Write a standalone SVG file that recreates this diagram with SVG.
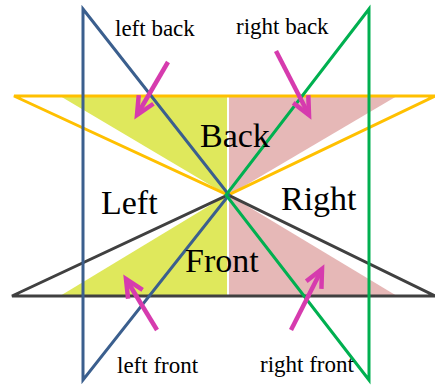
<svg xmlns="http://www.w3.org/2000/svg" width="435" height="385" viewBox="0 0 435 385">
<style>
.fy{fill:#dfe85c}
.fp{fill:#e6b8b7}
.ln{fill:none;stroke-width:3;stroke-linejoin:miter}
.ar{fill:none;stroke:#d63bae;stroke-width:4.5}
.sm{font-family:"Liberation Serif","Times New Roman",serif;font-size:23px;fill:#000}
.bg{font-family:"Liberation Serif","Times New Roman",serif;font-size:34px;fill:#000}
</style>
<defs>
<marker id="chev" markerUnits="userSpaceOnUse" viewBox="-22 -12 26 24" refX="0" refY="0" markerWidth="26" markerHeight="24" orient="auto" overflow="visible">
<path d="M-18,-8.5 L0,0 L-18,8.5" fill="none" stroke="#d63bae" stroke-width="4.5" stroke-linejoin="miter"/>
</marker>
</defs>
<rect width="435" height="385" fill="#fff"/>
<g id="fills">
<polygon class="fy" points="60,96 227,96 227,195"/>
<polygon class="fp" points="229,96 397,96 229,195"/>
<polygon class="fy" points="60,296 227,296 227,195"/>
<polygon class="fp" points="229,296 397,296 229,195"/>
</g>
<g id="connectors">
<polygon id="orange" class="ln" stroke="#ffc000" points="14,96 435,96 228,195"/>
<polygon id="gray" class="ln" stroke="#404040" points="12,296 435,296 228,195"/>
<polygon id="blue" class="ln" stroke="#3b5f8e" points="83,9 229,195 83,380"/>
<polygon id="green" class="ln" stroke="#00b050" points="369,9 226,195 369,380"/>
<line class="ar" x1="168" y1="62" x2="137" y2="115" marker-end="url(#chev)"/>
<line class="ar" x1="276" y1="51" x2="309" y2="115" marker-end="url(#chev)"/>
<line class="ar" x1="157" y1="330" x2="126" y2="279" marker-end="url(#chev)"/>
<line class="ar" x1="291" y1="330" x2="322" y2="269" marker-end="url(#chev)"/>
</g>
<g id="labels">
<text class="sm" x="115" y="36">left back</text>
<text class="sm" x="236" y="34">right back</text>
<text class="sm" x="117" y="373">left front</text>
<text class="sm" x="260" y="372">right front</text>
<text class="bg" x="200" y="147">Back</text>
<text class="bg" x="101" y="214">Left</text>
<text class="bg" x="281" y="210">Right</text>
<text class="bg" x="185" y="272">Front</text>
</g>
</svg>
